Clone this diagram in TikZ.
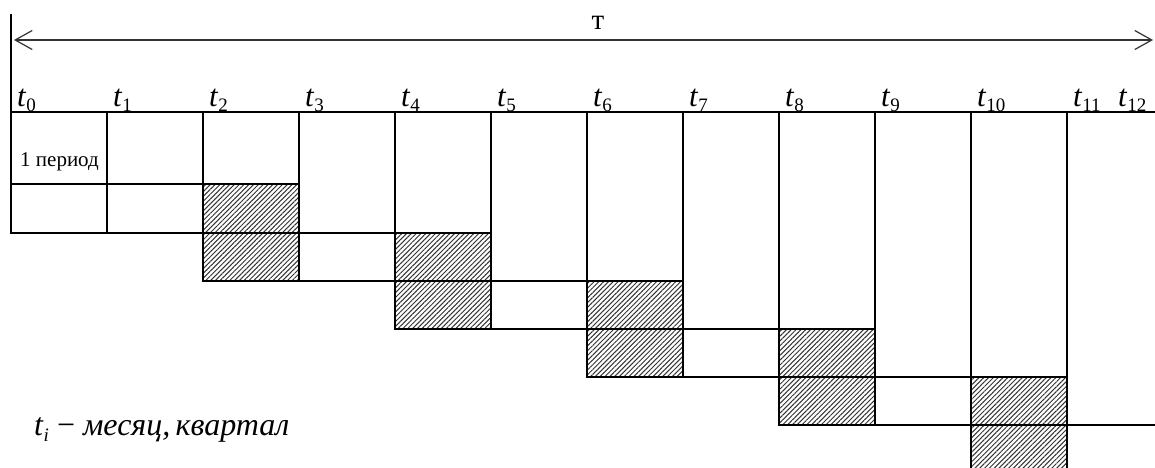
\documentclass[tikz,border=0pt]{standalone}
\usepackage{fontspec}
\setmainfont{Liberation Serif}
\usetikzlibrary{patterns.meta,arrows.meta}
\newcommand\tsub[1]{\textit{t}\raisebox{-5pt}{\fontsize{19}{20}\selectfont #1}}
\begin{document}
\begin{tikzpicture}[x=1pt,y=-1pt,
  gridline/.style={line width=1.5pt,black,line cap=rect},
  hatchcell/.style={pattern={Lines[angle=45,distance=3.4pt,line width=1pt]},pattern color=black!80},
  tlab/.style={anchor=base west,inner sep=0pt,font=\fontsize{31}{32}\selectfont},
  dimarrow/.style={{Straight Barb[length=17pt,width=19pt,line width=1.2pt]}-{Straight Barb[length=17pt,width=19pt,line width=1.2pt]},line width=1.1pt,black!80}]
\useasboundingbox (0,0) rectangle (1155,467);
% hatched cells
\foreach \k in {0,...,4}{
  \pgfmathsetmacro\xa{203+192*\k}
  \pgfmathsetmacro\xb{299+192*\k}
  \pgfmathsetmacro\ya{184+48*\k}
  \pgfmathsetmacro\yb{281+48*\k}
  \fill[hatchcell] (\xa,\ya) rectangle (\xb,{min(\yb,470)});
}
% vertical lines
\draw[gridline] (11,15) -- (11,233);
\foreach \x/\b in {107/233,203/281,299/281,395/329,491/329,587/377,683/377,779/425,875/425,971/470,1067/470}{
  \draw[gridline] (\x,112) -- (\x,\b);
}
% horizontal lines
\draw[gridline] (11,112) -- (1156,112);
\draw[gridline] (11,184) -- (299,184);
\draw[gridline] (11,233) -- (491,233);
\draw[gridline] (203,281) -- (683,281);
\draw[gridline] (395,329) -- (875,329);
\draw[gridline] (587,377) -- (1067,377);
\draw[gridline] (779,425) -- (1156,425);
% dimension arrow
\coordinate (aL) at (14,40);
\coordinate (aR) at (1153,40);
\draw[dimarrow] (aL) -- (aR);
\node[anchor=base,inner sep=0pt,font=\fontsize{29}{30}\selectfont] (T) at (598,29) {т};
% tick labels
\foreach \i in {0,...,11}{
  \node[tlab] (t\i) at ({11+96*\i+6},106) {\tsub{\i}};
}
\node[tlab] (t12) at (1118,106) {\tsub{12}};
% period label
\node[anchor=base west,inner sep=0pt,font=\fontsize{21}{22}\selectfont] (p1) at (20,166) {1 период};
% legend
\node[anchor=base west,inner sep=0pt,font=\fontsize{32}{34}\selectfont] (leg) at (34,435)
  {\textit{t}\raisebox{-6pt}{\fontsize{19}{20}\selectfont\textit{i}} − \textit{месяц,\,квартал}};
\end{tikzpicture}
\end{document}
